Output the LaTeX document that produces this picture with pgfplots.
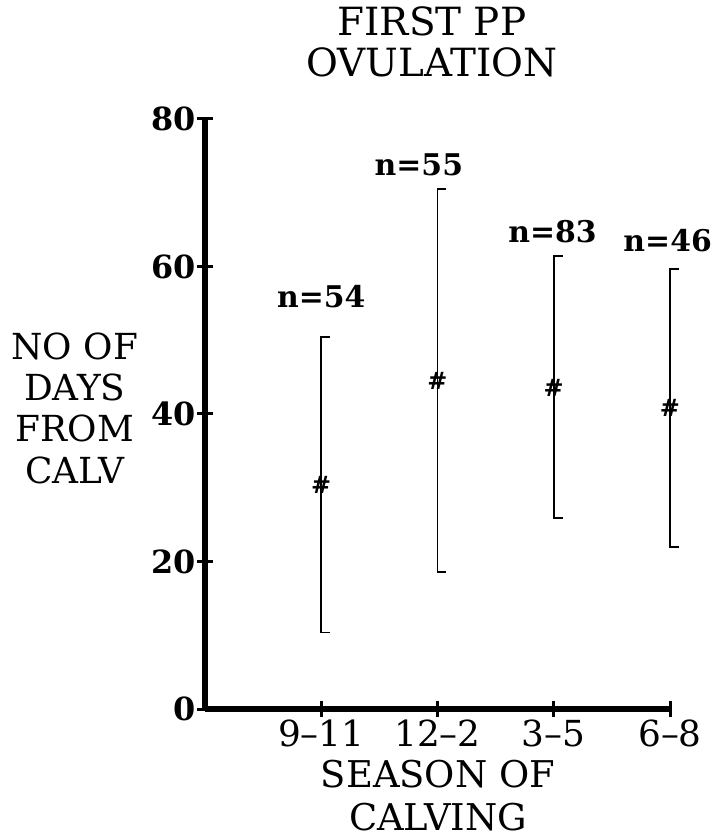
\documentclass[border=0pt]{standalone}
\usepackage{fontspec}
\setmainfont{DejaVu Serif}
\usepackage{pgfplots}
\pgfplotsset{compat=1.18}
\begin{document}
\begin{tikzpicture}
\begin{axis}[
  scale only axis,
  width=465bp, height=590bp,
  xmin=0, xmax=4, ymin=0, ymax=80,
  axis x line=bottom, axis y line=left,
  axis line style={-, line width=5.5bp},
  xtick={1,2,3,4},
  xticklabels={9--11,12--2,3--5,6--8},
  ytick={0,20,40,60,80},
  tick align=center,
  major tick length=16bp,
  tick style={line width=3bp, black},
  /pgf/number format/assume math mode=true,
  yticklabel style={font=\fontsize{32}{32}\selectfont\bfseries, inner sep=1bp},
  xticklabel style={font=\fontsize{36}{36}\selectfont, inner sep=3bp},
  ylabel={NO OF\\DAYS\\FROM\\CALV},
  ylabel style={rotate=-90, align=center, font=\fontsize{36}{41.5}\selectfont, at={(axis description cs:-0.28,0.51)}, anchor=center},
  xlabel={SEASON OF\\CALVING},
  xlabel style={align=center, font=\fontsize{37}{43}\selectfont, at={(axis description cs:0.501,-0.147)}, anchor=center},
  title={FIRST PP\\OVULATION},
  title style={align=center, font=\fontsize{39}{41}\selectfont, at={(axis description cs:0.488,1.121)}, anchor=center},
  clip=false,
]
% range bars (upper and lower end, cap drawn to the right)
\addplot[black, line width=1.6bp] coordinates {(1.077,50.4) (1,50.4) (1,10.4) (1.077,10.4)};
\addplot[black, line width=1.6bp] coordinates {(2.077,70.5) (2,70.5) (2,18.6) (2.077,18.6)};
\addplot[black, line width=1.6bp] coordinates {(3.077,61.4) (3,61.4) (3,25.9) (3.077,25.9)};
\addplot[black, line width=1.6bp] coordinates {(4.077,59.7) (4,59.7) (4,22.0) (4.077,22.0)};
% means
\addplot[black, only marks, mark=text, text mark={\fontsize{24}{24}\selectfont\bfseries\#}]
coordinates {(1,30.4) (2,44.5) (3,43.6) (4,40.8)};
\node[font=\fontsize{30}{30}\selectfont\bfseries, anchor=base] at (axis cs:1.0,54.5) {n=54};
\node[font=\fontsize{30}{30}\selectfont\bfseries, anchor=base] at (axis cs:1.84,72.4) {n=55};
\node[font=\fontsize{30}{30}\selectfont\bfseries, anchor=base] at (axis cs:2.99,63.3) {n=83};
\node[font=\fontsize{30}{30}\selectfont\bfseries, anchor=base] at (axis cs:3.98,62.0) {n=46};
\coordinate (O) at (rel axis cs:0,0);
\end{axis}
\path (O) ++(-205bp,-129bp) rectangle ++(721bp,838bp);
\end{tikzpicture}
\end{document}
